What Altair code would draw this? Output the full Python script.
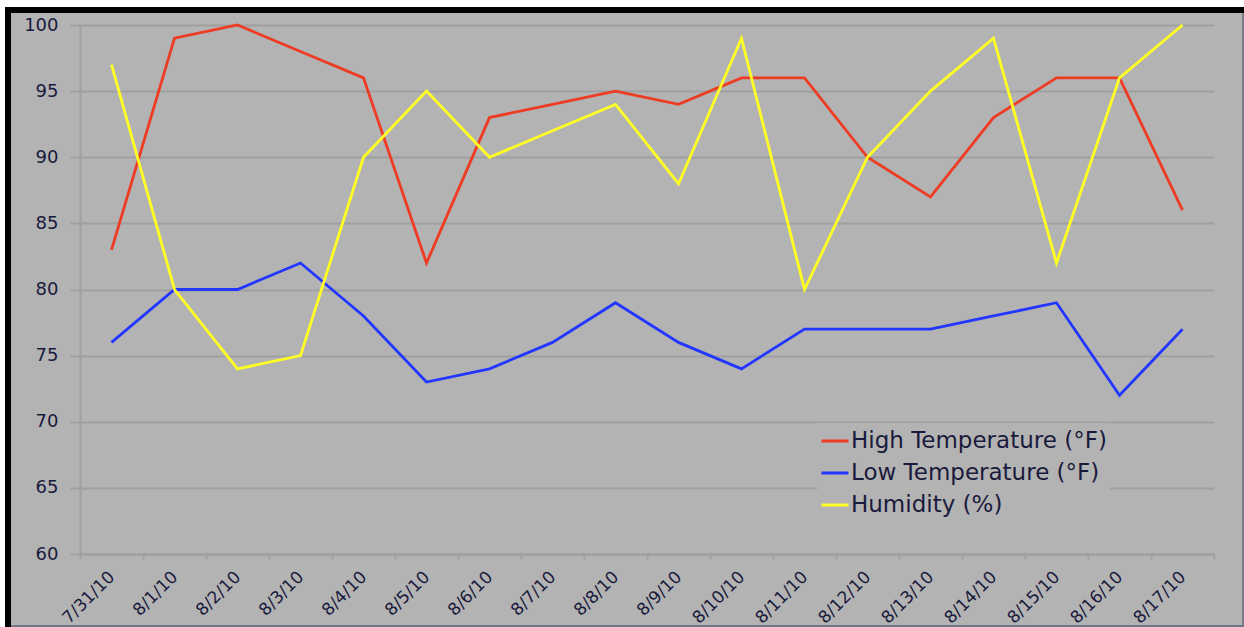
import altair as alt
import pandas as pd

dates = ["7/31/10", "8/1/10", "8/2/10", "8/3/10", "8/4/10", "8/5/10", "8/6/10",
         "8/7/10", "8/8/10", "8/9/10", "8/10/10", "8/11/10", "8/12/10", "8/13/10",
         "8/14/10", "8/15/10", "8/16/10", "8/17/10"]
high = [83, 99, 100, 98, 96, 82, 93, 94, 95, 94, 96, 96, 90, 87, 93, 96, 96, 86]
low = [76, 80, 80, 82, 78, 73, 74, 76, 79, 76, 74, 77, 77, 77, 78, 79, 72, 77]
humidity = [97, 80, 74, 75, 90, 95, 90, 92, 94, 88, 99, 80, 90, 95, 99, 82, 96, 100]
series_names = ["High Temperature (°F)", "Low Temperature (°F)", "Humidity (%)"]
series_colors = ["#ee3b24", "#2236ff", "#ffff24"]
y_ticks = [60, 65, 70, 75, 80, 85, 90, 95, 100]

rows = []
for name, vals in zip(series_names, [high, low, humidity]):
    for d, v in zip(dates, vals):
        rows.append({"date": d, "series": name, "value": v})
df = pd.DataFrame(rows)

BG = "#b3b3b3"
GRID = "#a0a0a0"
TXT = "#1a1a3c"

one = alt.Data(values=[{"k": 1}])

def box(x1, x2, y1, y2, color):
    return alt.Chart(one).mark_rect(color=color).encode(
        x=alt.value(x1), x2=alt.value(x2), y=alt.value(y1), y2=alt.value(y2)
    )

frame = [
    box(-80, 1164, -25, -18, "white"),
    box(-80, -75, -25, 602, "white"),
    box(-75, 1164, -18, -12, "black"),
    box(-75, -69, -18, 602, "black"),
    box(1162, 1164, -12, 602, "#7a7f8c"),
    box(-69, 1164, 600, 602, "#6f7888"),
]

lines = alt.Chart(df).mark_line(strokeWidth=2.8).encode(
    x=alt.X(
        "date:O",
        sort=dates,
        bandPosition=0.5,
        scale=alt.Scale(type="band", paddingInner=0, paddingOuter=0),
        axis=alt.Axis(
            title=None, labelAngle=315, labelAlign="right", labelBaseline="middle",
            labelFontSize=17, labelColor=TXT, labelPadding=15,
            tickBand="extent", tickSize=5, tickColor=GRID, tickWidth=2,
            domainColor=GRID, domainWidth=2, grid=False,
        ),
    ),
    y=alt.Y(
        "value:Q",
        scale=alt.Scale(domain=[60, 100], nice=False, zero=False),
        axis=alt.Axis(
            title=None, values=y_ticks, labelFontSize=18, labelColor=TXT,
            labelPadding=12, tickSize=10, tickColor=GRID, tickWidth=2,
            domainColor=GRID, domainWidth=2, grid=True, gridColor=GRID, gridWidth=2,
        ),
    ),
    color=alt.Color(
        "series:N",
        sort=series_names,
        scale=alt.Scale(domain=series_names, range=series_colors),
        legend=alt.Legend(
            title=None, orient="none", legendX=737, legendY=398,
            fillColor=BG, padding=3, symbolType="stroke", symbolSize=729,
            symbolStrokeWidth=3, labelFontSize=23, labelColor=TXT, labelLimit=0,
            rowPadding=5, labelOffset=1,
        ),
    ),
)

chart = alt.layer(*frame, lines).properties(
    width=1134, height=529,
    autosize=alt.AutoSizeParams(type="none"),
    padding={"left": 80, "top": 25, "right": 30, "bottom": 73},
    background=BG,
).configure(font="DejaVu Sans").configure_view(stroke=None)

chart.save("out.html", embed_options={"renderer": "svg", "actions": False})
